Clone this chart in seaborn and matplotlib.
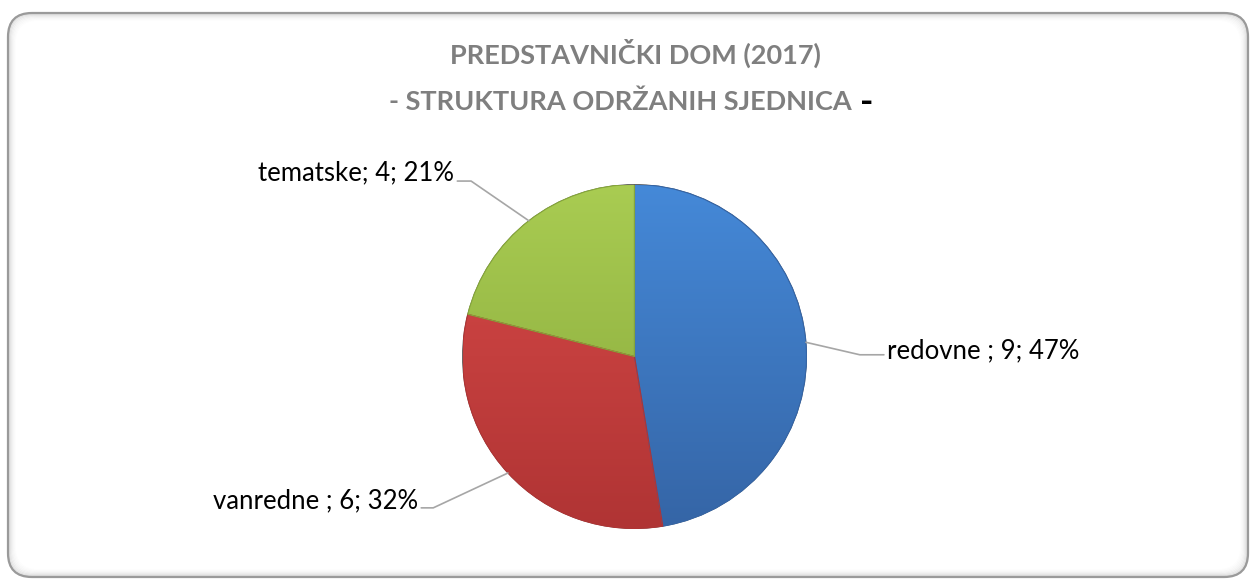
"""Struktura održanih sjednica - Predstavnički dom (2017), pie chart."""

import matplotlib
matplotlib.use("Agg")
import matplotlib.pyplot as plt
import numpy as np
import seaborn as sns
from matplotlib.colors import LinearSegmentedColormap
from matplotlib.patches import FancyBboxPatch, Wedge

categories = ["redovne ", "vanredne ", "tematske"]
counts = [9, 6, 4]
percents = ["47%", "32%", "21%"]

title_line1 = "PREDSTAVNIČKI DOM (2017)"
title_line2 = "- STRUKTURA ODRŽANIH SJEDNICA "

# light / dark tones for each slice (top -> bottom shading)
slice_tones = [("#4589d8", "#3565a6"), ("#d84a48", "#b03434"), ("#a9cc52", "#86a63a")]

sns.set_theme(style="white")
plt.rcParams["font.family"] = ["Lato", "DejaVu Sans"]

W, H = 1256, 581
fig = plt.figure(figsize=(W / 100, H / 100), dpi=100)
fig.patch.set_facecolor("white")

# rounded frame with soft inner shadow
bg = fig.add_axes([0, 0, 1, 1])
bg.set_xlim(0, W)
bg.set_ylim(H, 0)
bg.axis("off")
for i, a in enumerate([0.12, 0.09, 0.07, 0.05, 0.035, 0.025, 0.015, 0.008]):
    bg.add_patch(FancyBboxPatch((8 + 24 + i, 13 + 24 + i), W - 8 - 8 - 48 - 2 * i, H - 13 - 4 - 48 - 2 * i,
                                boxstyle="round,pad=24", fc="none", ec="black", lw=1.2, alpha=a))
bg.add_patch(FancyBboxPatch((8 + 24, 13 + 24), W - 16 - 48, H - 17 - 48,
                            boxstyle="round,pad=24", fc="none", ec="#9a9a9a", lw=1.6))

# title
t2 = bg.text(624, 102, title_line2, ha="center", va="center", fontsize=19.5, fontweight="bold", color="#7f7f7f")
bg.text(635, 53, title_line1, ha="center", va="center", fontsize=19.5, fontweight="bold", color="#7f7f7f")
bg.annotate("-", xy=(1, 0.5), xycoords=t2, xytext=(1, 0), textcoords="offset points",
            ha="left", va="center", fontsize=26, fontweight="bold", color="black")

# pie
cx, cy, r = 634.5, 356.5, 172
ax = fig.add_axes([(cx - r) / W, (H - cy - r) / H, 2 * r / W, 2 * r / H])
wedges, _ = ax.pie(counts, startangle=90, counterclock=False,
                   colors=[t[0] for t in slice_tones],
                   wedgeprops=dict(edgecolor="#555555", linewidth=0.6))
ax.set_xlim(-1, 1)
ax.set_ylim(-1, 1)
ax.set_aspect("equal")
ax.axis("off")

grad = np.linspace(0, 1, 256).reshape(-1, 1)
for w, (light, dark) in zip(wedges, slice_tones):
    cmap = LinearSegmentedColormap.from_list("g", [light, dark])
    im = ax.imshow(grad, extent=(-1, 1, -1, 1), cmap=cmap, origin="upper", aspect="auto", zorder=1.5)
    im.set_clip_path(w)
    ax.add_patch(Wedge(w.center, w.r, w.theta1, w.theta2, fc="none", ec=dark, lw=0.8, zorder=2))

# data labels with leader lines (offsets in pie-radius units)
label_layout = [
    # (elbow x, elbow y, text x, text y, ha)
    (1.31, 0.01, 1.47, 0.035, "left"),
    (-1.17, -0.88, -1.26, -0.84, "right"),
    (-0.95, 1.02, -1.05, 1.07, "right"),
]
for w, cat, n, pct, (ex, ey, tx, ty, ha) in zip(wedges, categories, counts, percents, label_layout):
    mid = np.deg2rad((w.theta1 + w.theta2) / 2)
    px, py = np.cos(mid), np.sin(mid)
    hx = tx - 0.02 if ha == "left" else tx + 0.02
    ax.plot([px, ex, hx], [py, ey, ey], color="#a6a6a6", lw=1.2, clip_on=False, zorder=3)
    ax.text(tx, ty, f"{cat}; {n}; {pct}", ha=ha, va="center", fontsize=18.5, color="black", clip_on=False)

fig.savefig("out.png", dpi=100)
